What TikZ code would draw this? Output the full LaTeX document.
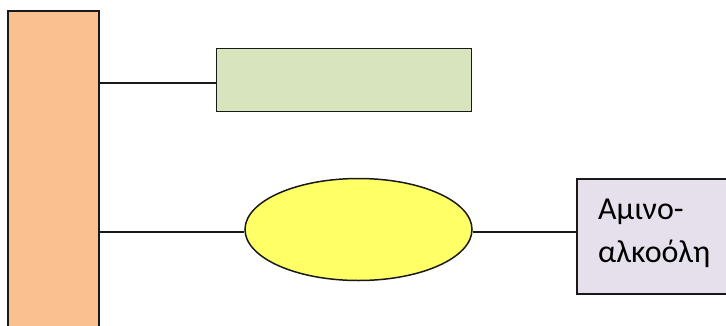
\documentclass[tikz,border=0pt]{standalone}
\usepackage{fontspec}
\setmainfont{Carlito}
\usetikzlibrary{shapes.geometric}
\definecolor{peach}{HTML}{FAC090}
\definecolor{sage}{HTML}{D7E4BD}
\definecolor{lemon}{HTML}{FFFF66}
\definecolor{lilac}{HTML}{E6E0EC}
\tikzset{
  shape edge/.style={draw=black!90, line width=1.5pt},
  link/.style={draw=black!90, line width=1.2pt}
}
\begin{document}
\begin{tikzpicture}[x=1pt,y=-1pt]
  \useasboundingbox (0,0) rectangle (726,325);
  \begin{scope}
    \clip (0,0) rectangle (726,325);
    % tall bar on the left
    \draw[shape edge, fill=peach] (8,11) rectangle (99,335);
    \coordinate (barA) at (99,83);
    \coordinate (barB) at (99,232);
    % upper box
    \node[shape edge, fill=sage, rectangle, minimum width=255pt, minimum height=63pt, inner sep=0pt] (upper) at (344,80) {};
    % ellipse
    \node[shape edge, fill=lemon, ellipse, minimum width=227pt, minimum height=102pt, inner sep=0pt] (oval) at (358.5,229.5) {};
    % box on the right
    \draw[shape edge, fill=lilac] (577,179) rectangle (740,294);
    \coordinate (boxL) at (577,232);
    % two-line label; the base anchor sits on the last line
    \node[anchor=base west, align=left, font=\fontsize{32}{43}\selectfont, inner sep=0pt] (label) at (598,262) {Αμινο-\\αλκοόλη};
    % connectors
    \draw[link] (barA) -- (barA -| upper.west);
    \draw[link] (barB) -- (barB -| oval.west);
    \draw[link] (boxL -| oval.east) -- (boxL);
  \end{scope}
\end{tikzpicture}
\end{document}
